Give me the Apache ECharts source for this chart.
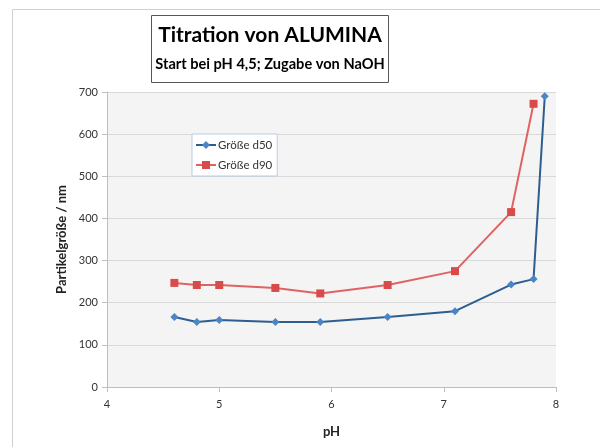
<!DOCTYPE html>
<html>
<head>
<meta charset="utf-8">
<style>html,body{margin:0;padding:0;background:#fff;}#c{width:600px;height:447px;}</style>
<script src="https://cdn.jsdelivr.net/npm/echarts@6/dist/echarts.min.js"></script>
</head>
<body>
<div id="c"></div>
<script>
const phD50 = [4.6, 4.8, 5.0, 5.5, 5.9, 6.5, 7.1, 7.6, 7.8, 7.9];
const sizeD50 = [166, 154, 159, 154, 154, 166, 180, 243, 256, 690];
const phD90 = [4.6, 4.8, 5.0, 5.5, 5.9, 6.5, 7.1, 7.6, 7.8];
const sizeD90 = [247, 242, 242, 235, 222, 242, 275, 415, 672];
const seriesNames = ['Größe d50', 'Größe d90'];
const titleText = 'Titration von ALUMINA';
const subtitleText = 'Start bei pH 4,5; Zugabe von NaOH';

const FONT = 'Lato';
const chart = echarts.init(document.getElementById('c'));
chart.setOption({
  animation: false,
  backgroundColor: '#fff',
  graphic: [
    {
      type: 'rect', silent: true, z: -10,
      shape: {x: 12.5, y: 9.5, width: 600, height: 460},
      style: {fill: '#fff', stroke: '#d0d0d0', lineWidth: 1}
    },
    {
      type: 'rect', silent: true,
      shape: {x: 151.5, y: 15.5, width: 237, height: 67},
      style: {fill: '#fff', stroke: '#555', lineWidth: 1}
    },
    {
      type: 'text', silent: true, x: 270, y: 35,
      style: {text: titleText, fontFamily: FONT, fontSize: 21, fontWeight: 'bold', fill: '#000', align: 'center', verticalAlign: 'middle'}
    },
    {
      type: 'text', silent: true, x: 270, y: 64,
      style: {text: subtitleText, fontFamily: FONT, fontSize: 14.6, fontWeight: 'bold', fill: '#000', align: 'center', verticalAlign: 'middle'}
    }
  ],
  legend: {
    left: 192, top: 134, orient: 'vertical',
    backgroundColor: '#fff', borderColor: '#b9cde5', borderWidth: 1,
    padding: [5, 5, 5, 3], itemGap: 8, itemWidth: 20, itemHeight: 10,
    textStyle: {fontFamily: FONT, fontSize: 11.5, color: '#333', padding: [0, 0, 0, -3]},
    data: seriesNames
  },
  grid: {left: 107, right: 44, top: 92, bottom: 60, show: true, backgroundColor: '#f4f4f4', borderWidth: 0},
  xAxis: {
    type: 'value', min: 4, max: 8, interval: 1,
    name: 'pH', nameLocation: 'middle', nameGap: 38,
    nameTextStyle: {fontFamily: FONT, fontSize: 13, fontWeight: 'bold', color: '#222'},
    axisLine: {lineStyle: {color: '#bfbfbf', width: 1}},
    axisTick: {show: true, length: 5, lineStyle: {color: '#bfbfbf'}},
    axisLabel: {fontFamily: FONT, fontSize: 11, color: '#333', margin: 12},
    splitLine: {show: false}
  },
  yAxis: {
    type: 'value', min: 0, max: 700, interval: 100,
    name: 'Partikelgröße / nm', nameLocation: 'middle', nameGap: 38,
    nameTextStyle: {fontFamily: FONT, fontSize: 13, fontWeight: 'bold', color: '#222'},
    axisLine: {show: true, lineStyle: {color: '#bfbfbf', width: 1}},
    axisTick: {show: true, length: 5, lineStyle: {color: '#bfbfbf'}},
    axisLabel: {fontFamily: FONT, fontSize: 11, color: '#333', margin: 9},
    splitLine: {show: true, lineStyle: {color: '#d9d9d9', width: 1}}
  },
  series: [
    {
      name: seriesNames[0], type: 'line',
      data: phD50.map((x, i) => [x, sizeD50[i]]),
      symbol: 'diamond', symbolSize: 8,
      lineStyle: {color: '#2e5d8f', width: 2},
      itemStyle: {color: '#4a86c5'}
    },
    {
      name: seriesNames[1], type: 'line',
      data: phD90.map((x, i) => [x, sizeD90[i]]),
      symbol: 'rect', symbolSize: 8,
      lineStyle: {color: '#e06262', width: 2},
      itemStyle: {color: '#d94b4b'}
    }
  ]
});
</script>
</body>
</html>
